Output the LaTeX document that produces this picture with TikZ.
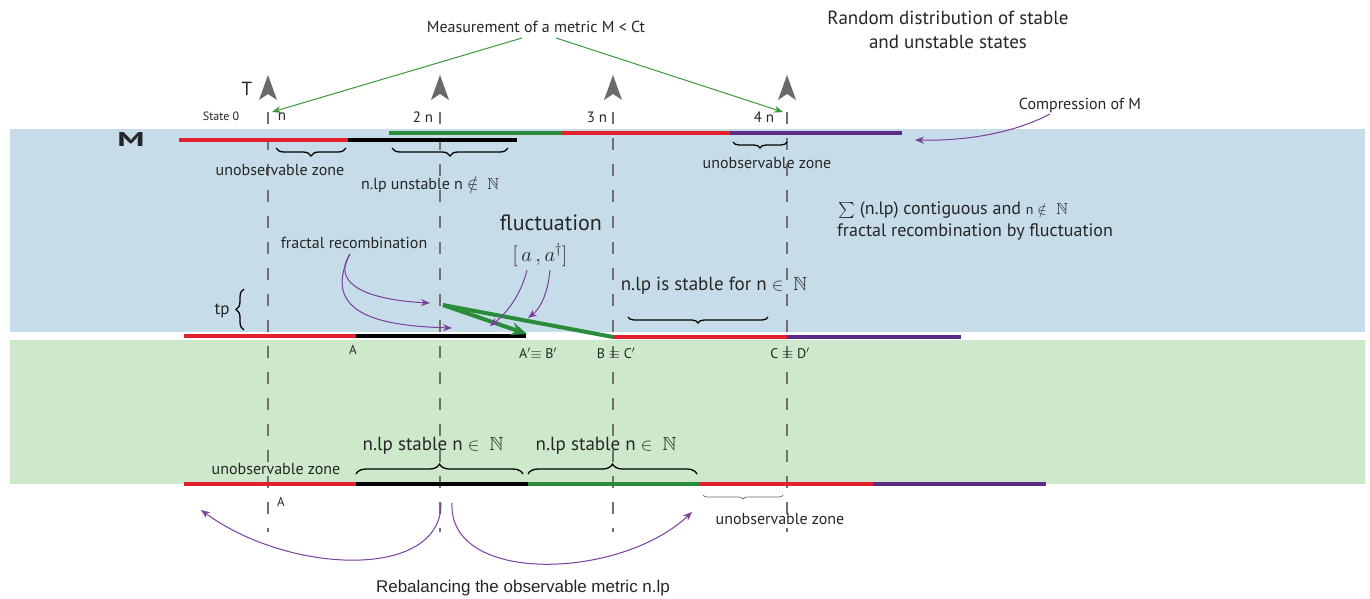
\documentclass[tikz,border=0pt]{standalone}
\usepackage{fontspec}
\usepackage{amssymb}
\usepackage{graphicx}
\setmainfont{PT Sans}
\newfontfamily\arialfont{Liberation Sans}
\usetikzlibrary{arrows.meta,decorations.pathreplacing}
\definecolor{blueband}{HTML}{C6DDE9}
\definecolor{greenband}{HTML}{CDE8CB}
\definecolor{lred}{HTML}{E3202E}
\definecolor{lgreen}{HTML}{2A8C3A}
\definecolor{lpurple}{HTML}{5B2C83}
\definecolor{dashgray}{HTML}{707070}
\definecolor{headgray}{HTML}{6A6A6A}
\definecolor{apurple}{HTML}{7A3E9D}
\definecolor{mgreen}{HTML}{3A9A3A}
\newcommand{\fsz}[1]{\fontsize{#1}{#1}\selectfont}
\tikzset{
  seg/.style={line width=4pt},
  vdash/.style={draw=dashgray, line width=2.5pt, dash pattern=on 12pt off 14pt},
  lbl/.style={inner sep=0pt, text=black!85},
  parrow/.style={draw=apurple, line width=1pt, -{Stealth[length=9pt,width=7pt]}},
  garrow/.style={draw=mgreen, line width=1pt, -{Stealth[length=9pt,width=7pt]}},
  thickg/.style={draw=lgreen, line width=4pt},
  brcd/.style={decorate, decoration={brace, amplitude=8pt, mirror}, line width=1.3pt},
  brcu/.style={decorate, decoration={brace, amplitude=10pt}, line width=1.3pt},
  headshape/.style={fill=headgray}
}
\begin{document}
\begin{tikzpicture}[x=1pt,y=-1pt]
\useasboundingbox (0,0) rectangle (1370,598);
\fill[white] (0,0) rectangle (1370,598);
\fill[blueband] (10,129) rectangle (1365,332);
\fill[greenband] (10,340) rectangle (1365,484);

% time lines
\foreach \x in {268,440,613,787} {
  \draw[vdash] (\x,112) -- (\x,532);
  \fill[headshape] (\x,75) -- (\x+9,100) -- (\x,94) -- (\x-9,100) -- cycle;
}

% top labels
\node[lbl, font=\fsz{19}] (T) at (247,89) {T};
\node[lbl, font=\fsz{12}] (s0) at (221,116) {State 0};
\node[lbl, font=\fsz{15}] (n1) at (282,117) {n};
\node[lbl, font=\fsz{15}] (n2) at (423,117) {2 n};
\node[lbl, font=\fsz{15}] (n3) at (597,117) {3 n};
\node[lbl, font=\fsz{15}] (n4) at (764,117) {4 n};
\node[lbl, font=\fsz{20}] (M) at (131,139) {\scalebox{1.7}[1]{\textbf{M}}};

\node[lbl, font=\fsz{16}] (meas) at (536,27) {Measurement of a metric M < Ct};
\coordinate (m1) at (522,38);
\coordinate (m2) at (556,38);
\coordinate (t1) at (272,112);
\coordinate (t4) at (783,112);
\draw[garrow] (m1) -- (t1);
\draw[garrow] (m2) -- (t4);

\node[lbl, font=\fsz{19}, align=center] (rand) at (948,30) {Random distribution of stable\\[5pt]and unstable states};

\node[lbl, font=\fsz{16}] (comp) at (1080,105) {Compression of M};
\coordinate (c1) at (1050,114);
\coordinate (c2) at (915,140);
\draw[parrow] (c1) .. controls (1010,135) and (960,141) .. (c2);

% top metric line
\draw[seg,lred] (179,140) -- (348,140);
\draw[seg,black] (348,140) -- (517,140);
\draw[seg,lgreen] (389,133) -- (562,133);
\draw[seg,lred] (562,133) -- (730,133);
\draw[seg,lpurple] (730,133) -- (902,133);

\draw[brcd] (276,148) -- (346,148);
\draw[brcd] (392,148) -- (508,148);
\draw[brcd, decoration={amplitude=6pt}] (733,142) -- (787,142);

\node[lbl, font=\fsz{16}] (uz1) at (280,170) {unobservable zone};
\node[lbl, font=\fsz{16}] (unst) at (430,185) {n.lp unstable n $\notin$\ \ $\mathbb{N}$};
\node[lbl, font=\fsz{16}] (uz2) at (767,163) {unobservable zone};

\node[lbl, font=\fsz{18}, anchor=west] (sum) at (838,210) {{\fsz{16}$\sum$} (n.lp) contiguous and {\fsz{14}n $\notin$}\ \ {\fsz{16}$\mathbb{N}$}};
\node[lbl, font=\fsz{18}, anchor=west] (frb) at (837,232) {fractal recombination by fluctuation};

% middle zone
\node[lbl, font=\fsz{16}] (frec) at (354,243) {fractal recombination};
\node[lbl, font=\fsz{22}] (fluc) at (551,223) {fluctuation};
\node[lbl, font=\fsz{21}] (comm) at (540,255) {$[\,a\,,a^{\dagger}]$};
\node[lbl, font=\fsz{19}] (stab) at (714,286) {n.lp is stable for n $\in$\ \ $\mathbb{N}$};
\draw[brcd, decoration={amplitude=6pt}] (628,317) -- (768,317);

\node[lbl, font=\fsz{17}] (tp) at (222,311) {tp};
\draw[decorate, decoration={brace, amplitude=8pt}, line width=1.3pt] (244,330) -- (244,289);

% middle metric line
\draw[seg,lred] (184,336) -- (356,336);
\draw[seg,black] (356,336) -- (526,336);
\draw[seg,lred] (613,337) -- (787,337);
\draw[seg,lpurple] (787,337) -- (961,337);

\node[lbl, font=\fsz{13}] (A1) at (353,350) {A};
\node[lbl, font=\fsz{14}] (AB) at (538,353) {A$'$$\equiv$ B$'$};
\node[lbl, font=\fsz{14}] (BC) at (616,353) {B $\equiv$ C$'$};
\node[lbl, font=\fsz{14}] (CD) at (790,353) {C $\equiv$ D$'$};

\coordinate (g0) at (443,305);
\coordinate (g1) at (527,334);
\coordinate (g2) at (613,337);
\draw[thickg] (g0) -- (g2);
\draw[thickg, -{Stealth[length=16pt,width=13pt]}] (g0) -- (g1);

\coordinate (f0) at (350,254);
\coordinate (f1) at (430,303);
\coordinate (f2) at (452,328);
\draw[parrow] (f0) .. controls (330,285) and (370,300) .. (f1);
\draw[parrow] (f0) .. controls (318,318) and (390,326) .. (f2);
\coordinate (q1) at (527,270);
\coordinate (q1e) at (490,326);
\coordinate (q2) at (550,270);
\coordinate (q2e) at (528,318);
\draw[parrow] (q1) .. controls (521,295) and (506,314) .. (q1e);
\draw[parrow] (q2) .. controls (548,292) and (541,308) .. (q2e);

% bottom metric line
\draw[seg,lred] (184,484) -- (356,484);
\draw[seg,black] (356,484) -- (528,484);
\draw[seg,lgreen] (528,484) -- (700,484);
\draw[seg,lred] (700,484) -- (873,484);
\draw[seg,lpurple] (873,484) -- (1046,484);

\draw[brcu] (356,474) -- (523,474);
\draw[brcu] (528,474) -- (697,474);
\node[lbl, font=\fsz{16}] (uz3) at (276,469) {unobservable zone};
\node[lbl, font=\fsz{19}] (st1) at (433,446) {n.lp stable n $\in$\ \ $\mathbb{N}$};
\node[lbl, font=\fsz{19}] (st2) at (606,446) {n.lp stable n $\in$\ \ $\mathbb{N}$};

\node[lbl, font=\fsz{13}] (A2) at (281,502) {A};
\draw[decorate, decoration={brace, amplitude=4pt, mirror}, line width=0.7pt, draw=black!60] (703,495) -- (783,495);
\node[lbl, font=\fsz{16}] (uz4) at (780,519) {unobservable zone};

\coordinate (r0) at (441,503);
\coordinate (r1) at (201,510);
\coordinate (r2) at (452,503);
\coordinate (r3) at (692,512);
\draw[parrow] (r0) .. controls (442,580) and (290,575) .. (r1);
\draw[parrow] (r2) .. controls (448,585) and (620,580) .. (r3);
\node[lbl, font={\arialfont\fsz{17}}] (reb) at (523,588) {Rebalancing the observable metric n.lp};
\end{tikzpicture}
\end{document}
